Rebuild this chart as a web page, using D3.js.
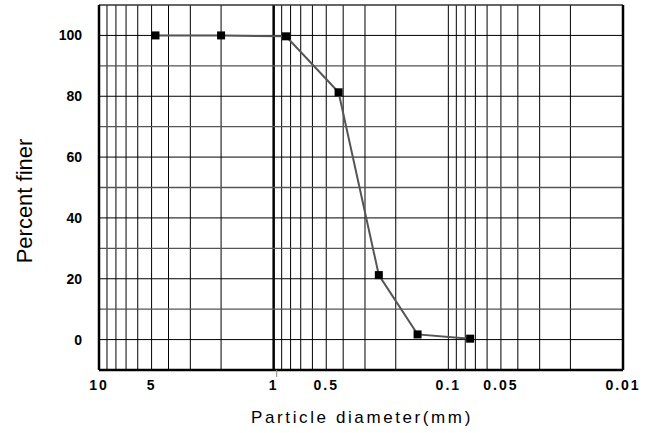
<!DOCTYPE html>
<html>
<head>
<meta charset="utf-8">
<script src="https://cdn.jsdelivr.net/npm/d3@7"></script>
<style>
  body { margin: 0; background: #fff; }
  svg { display: block; font-family: "Liberation Sans", Arial, sans-serif; }
</style>
</head>
<body>
<svg id="chart" width="655" height="433"></svg>
<script>
// sieve sizes (mm) and percent finer
const diameters = [4.75, 2.0, 0.85, 0.425, 0.25, 0.15, 0.075];
const percentFiner = [100, 100, 99.7, 81.3, 21.2, 1.7, 0.3];

const xTickValues = [10, 5, 1, 0.5, 0.1, 0.05, 0.01];
const xTickLabels = ["10", "5", "1", "0.5", "0.1", "0.05", "0.01"];
const yTickValues = [0, 20, 40, 60, 80, 100];

const svg = d3.select("#chart");
const W = 655, H = 433;
const margin = { top: 5, left: 99, right: 32, bottom: 63 };
const chartWidth = W - margin.left - margin.right;
const chartHeight = H - margin.top - margin.bottom;

const x = d3.scaleLog().domain([10, 0.01]).range([0, chartWidth]);
const y = d3.scaleLinear().domain([-10, 110]).range([chartHeight, 0]);

const g = svg.append("g")
    .attr("transform", `translate(${margin.left}, ${margin.top})`);

// log grid: 1..9 in each decade
const vLines = [];
[1, 0.1, 0.01].forEach(dec => {
    for (let k = 1; k <= 9; k++) vLines.push(dec * k);
});
g.selectAll("line.vgrid")
    .data(vLines.filter(v => v < 10 && v > 0.01))
    .enter()
    .append("line")
    .attr("class", "vgrid")
    .attr("x1", d => x(d))
    .attr("x2", d => x(d))
    .attr("y1", 0)
    .attr("y2", chartHeight)
    .attr("stroke", "#000")
    .attr("stroke-width", d => d === 1 ? 2.5 : 1);

g.selectAll("line.hgrid")
    .data(d3.range(0, 110, 10))
    .enter()
    .append("line")
    .attr("class", "hgrid")
    .attr("x1", 0)
    .attr("x2", chartWidth)
    .attr("y1", d => y(d))
    .attr("y2", d => y(d))
    .attr("stroke", d => d % 20 === 0 ? "#000" : "#555")
    .attr("stroke-width", d => d % 20 === 0 ? 1 : 1.3);

// frame
g.append("line").attr("x1", 0).attr("x2", chartWidth).attr("y1", 0).attr("y2", 0)
    .attr("stroke", "#333").attr("stroke-width", 1.5);
g.append("line").attr("x1", 0).attr("x2", chartWidth).attr("y1", chartHeight).attr("y2", chartHeight)
    .attr("stroke", "#000").attr("stroke-width", 2.5);
g.append("line").attr("x1", 0).attr("x2", 0).attr("y1", 0).attr("y2", chartHeight)
    .attr("stroke", "#000").attr("stroke-width", 2.5);
g.append("line").attr("x1", chartWidth).attr("x2", chartWidth).attr("y1", 0).attr("y2", chartHeight)
    .attr("stroke", "#000").attr("stroke-width", 2.5);

// small stray tick under the axis next to 1
g.append("line")
    .attr("x1", x(1) + 3).attr("x2", x(1) + 3)
    .attr("y1", chartHeight).attr("y2", chartHeight + 7)
    .attr("stroke", "#888").attr("stroke-width", 1);

// tick labels
g.selectAll("text.xt")
    .data(xTickValues)
    .enter()
    .append("text")
    .attr("class", "xt")
    .attr("x", d => x(d))
    .attr("y", chartHeight + 20)
    .attr("text-anchor", "middle")
    .attr("font-size", 14)
    .attr("font-weight", "bold")
    .attr("letter-spacing", 2)
    .text((d, i) => xTickLabels[i]);

g.selectAll("text.yt")
    .data(yTickValues)
    .enter()
    .append("text")
    .attr("class", "yt")
    .attr("x", -17)
    .attr("y", d => y(d) + 5)
    .attr("text-anchor", "end")
    .attr("font-size", 14)
    .attr("font-weight", "bold")
    .text(d => d);

// data
const pts = diameters.map((d, i) => ({ d, p: percentFiner[i] }));
const line = d3.line().x(d => x(d.d)).y(d => y(d.p));
g.append("path")
    .datum(pts)
    .attr("d", line)
    .attr("fill", "none")
    .attr("stroke", "#555")
    .attr("stroke-width", 2);

g.selectAll("rect.pt")
    .data(pts)
    .enter()
    .append("rect")
    .attr("class", "pt")
    .attr("x", d => x(d.d) - 4)
    .attr("y", d => y(d.p) - 4)
    .attr("width", 8)
    .attr("height", 8)
    .attr("fill", "#000");

// axis titles
svg.append("text")
    .attr("x", 362)
    .attr("y", 423)
    .attr("text-anchor", "middle")
    .attr("font-size", 17)
    .attr("letter-spacing", 2.6)
    .text("Particle diameter(mm)");

svg.append("text")
    .attr("transform", `translate(32, 201) rotate(-90)`)
    .attr("text-anchor", "middle")
    .attr("font-size", 22)
    .text("Percent finer");
</script>
</body>
</html>
